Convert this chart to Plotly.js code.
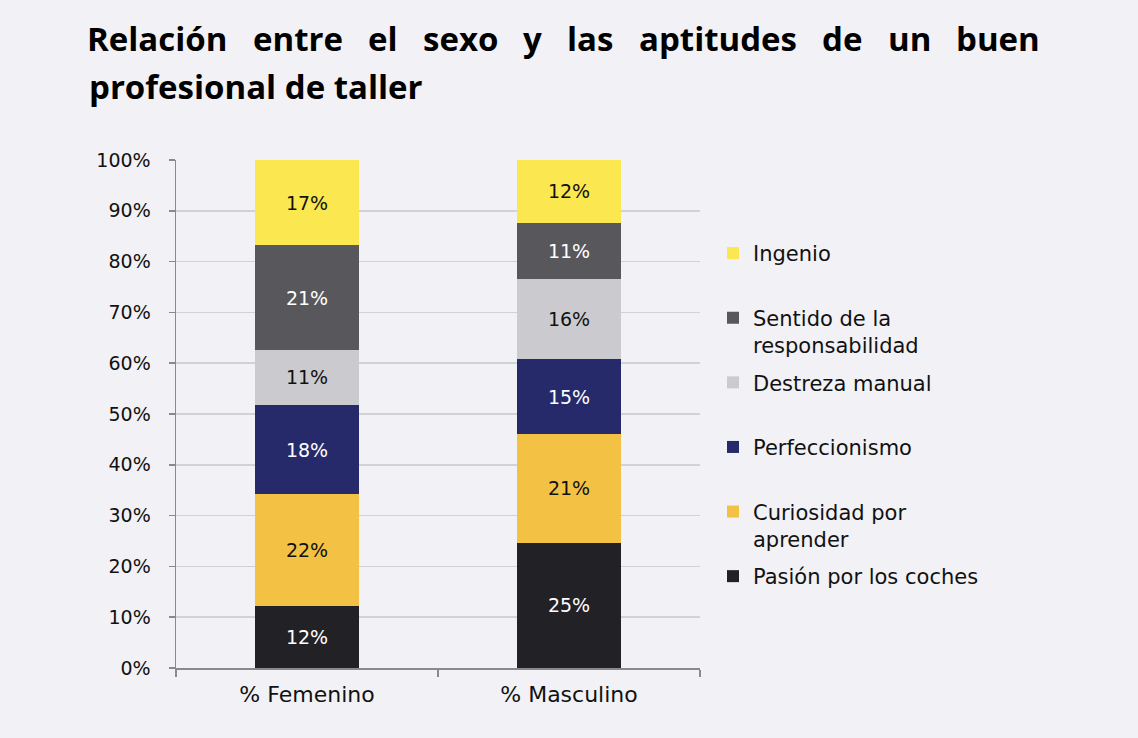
<!DOCTYPE html>
<html>
<head>
<meta charset="utf-8">
<script src="https://cdn.plot.ly/plotly-3.0.1.min.js"></script>
<style>html,body{margin:0;padding:0;background:#f2f1f6;}#chart{width:1138px;height:738px;}</style>
</head>
<body>
<div id="chart"></div>
<script>
// ---- data ----
var categories = ['% Femenino', '% Masculino'];
var seriesNames = ['Pasión por los coches', 'Curiosidad por<br>aprender', 'Perfeccionismo<br> ', 'Destreza manual<br> ', 'Sentido de la<br>responsabilidad', 'Ingenio<br> '];
var pasion = [12.2, 24.7];
var curiosidad = [22.0, 21.3];
var perfeccionismo = [17.6, 14.8];
var destreza = [10.8, 15.7];
var sentido = [20.6, 11.1];
var ingenio = [16.8, 12.4];
var seriesColors = ['#222125', '#f3c244', '#262a6b', '#cbcacf', '#58575c', '#fbe74f'];
var labelColors = ['#ffffff', '#111111', '#ffffff', '#111111', '#ffffff', '#111111'];
var yTickVals = [0, 10, 20, 30, 40, 50, 60, 70, 80, 90, 100];
var yTickText = ['0%', '10%', '20%', '30%', '40%', '50%', '60%', '70%', '80%', '90%', '100%'];
var titleLine1 = ['Relación', 'entre', 'el', 'sexo', 'y', 'las', 'aptitudes', 'de', 'un', 'buen'];
var titleLine2 = 'profesional de taller';

var seriesValues = [pasion, curiosidad, perfeccionismo, destreza, sentido, ingenio];
var FONT = 'DejaVu Sans, sans-serif';
var TFONT = 'Open Sans, sans-serif';
var TSIZE = 33;

var traces = seriesValues.map(function (vals, i) {
  return {
    type: 'bar',
    x: categories,
    y: vals,
    name: seriesNames[i],
    legendgroup: 'g' + i,
    legendrank: seriesValues.length - i,
    marker: {color: seriesColors[i], line: {width: 0}},
    text: vals.map(function (v) { return Math.round(v) + '%'; }),
    textposition: 'inside',
    insidetextanchor: 'middle',
    textangle: 0,
    constraintext: 'none',
    textfont: {family: FONT, size: 19, color: labelColors[i]},
    hoverinfo: 'skip'
  };
});

var L = 176, R = 700, T = 160, B = 668, W = 1138, H = 738;
function px2x(p) { return (p - L) / (R - L); }
function py2y(p) { return (B - p) / (B - T); }

// justified first title line: measure word widths, spread the leftover space evenly
var ctx = document.createElement('canvas').getContext('2d');
ctx.font = 'bold ' + TSIZE + 'px "Open Sans", sans-serif';
var widths = titleLine1.map(function (w) { return ctx.measureText(w).width; });
var lineLeft = 87, lineRight = 1040;
var totalW = widths.reduce(function (a, b) { return a + b; }, 0);
var gap = (lineRight - lineLeft - totalW) / (titleLine1.length - 1);
var cursor = lineLeft;
var annotations = titleLine1.map(function (w, i) {
  var a = {
    text: '<b>' + w + '</b>', xref: 'paper', yref: 'paper',
    x: px2x(cursor + widths[i] / 2), y: py2y(39),
    xanchor: 'center', yanchor: 'middle',
    showarrow: false, font: {family: TFONT, size: TSIZE, color: '#000000'}
  };
  cursor += widths[i] + gap;
  return a;
});
annotations.push({
  text: '<b>' + titleLine2 + '</b>', xref: 'paper', yref: 'paper',
  x: px2x(87), y: py2y(86), xanchor: 'left', yanchor: 'middle',
  showarrow: false, font: {family: TFONT, size: TSIZE, color: '#000000'}
});

var layout = {
  width: W, height: H,
  paper_bgcolor: '#f2f1f6', plot_bgcolor: '#f2f1f6',
  margin: {l: L, r: W - R, t: T, b: H - B, pad: 0},
  barmode: 'stack',
  bargap: 0.6,
  showlegend: true,
  legend: {
    x: px2x(713), y: py2y(233), xanchor: 'left', yanchor: 'top',
    traceorder: 'grouped', valign: 'top', tracegroupgap: 7,
    font: {family: FONT, size: 21, color: '#111111'},
    bgcolor: 'rgba(0,0,0,0)'
  },
  xaxis: {
    type: 'category', range: [-0.5, 1.5],
    showline: true, linecolor: '#8a8a8e', linewidth: 1.5,
    ticks: 'outside', tickson: 'boundaries', ticklen: 7, tickcolor: '#8a8a8e', tickwidth: 1.5,
    showgrid: false,
    ticklabelstandoff: 6,
    tickfont: {family: FONT, size: 22, color: '#111111'}
  },
  yaxis: {
    range: [0, 100], tickmode: 'array', tickvals: yTickVals, ticktext: yTickText,
    showline: true, linecolor: '#8a8a8e', linewidth: 1.5,
    ticks: 'outside', ticklen: 6, tickcolor: '#8a8a8e', tickwidth: 1.5,
    showgrid: true, gridcolor: '#d2d1d6', gridwidth: 1.5,
    zeroline: false,
    ticklabelstandoff: 14,
    tickfont: {family: FONT, size: 19, color: '#111111'}
  },
  annotations: annotations
};

Plotly.newPlot('chart', traces, layout, {displayModeBar: false, staticPlot: true});
</script>
</body>
</html>
